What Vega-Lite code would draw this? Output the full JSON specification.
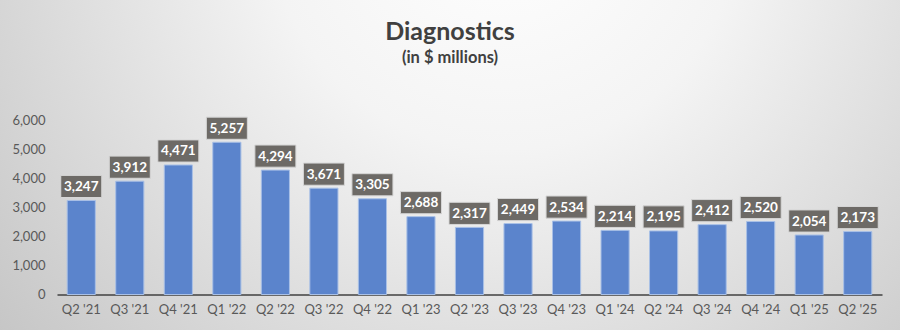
{
  "$schema": "https://vega.github.io/schema/vega-lite/v6.json",
  "width": 900,
  "height": 330,
  "autosize": "none",
  "padding": 0,
  "background": "#c8c8c8",
  "config": {
    "view": {
      "stroke": null,
      "fill": {
        "gradient": "radial",
        "x1": 0.56, "y1": 0.22, "r1": 0,
        "x2": 0.56, "y2": 0.22, "r2": 0.75,
        "stops": [
          {"offset": 0, "color": "#ffffff"},
          {"offset": 0.35, "color": "#f4f4f4"},
          {"offset": 1, "color": "#c4c4c4"}
        ]
      }
    },
    "font": "Lato"
  },
  "title": {
    "text": "Diagnostics",
    "subtitle": "(in $ millions)",
    "font": "Lato",
    "fontSize": 25,
    "fontWeight": "bold",
    "color": "#404040",
    "subtitleFont": "Lato",
    "subtitleFontSize": 16.5,
    "subtitleFontWeight": "bold",
    "subtitleColor": "#404040",
    "subtitlePadding": 5,
    "anchor": "middle",
    "frame": "group",
    "offset": -66
  },
  "data": {
    "values": [
      {"quarter": "Q2 '21", "value": 3247},
      {"quarter": "Q3 '21", "value": 3912},
      {"quarter": "Q4 '21", "value": 4471},
      {"quarter": "Q1 '22", "value": 5257},
      {"quarter": "Q2 '22", "value": 4294},
      {"quarter": "Q3 '22", "value": 3671},
      {"quarter": "Q4 '22", "value": 3305},
      {"quarter": "Q1 '23", "value": 2688},
      {"quarter": "Q2 '23", "value": 2317},
      {"quarter": "Q3 '23", "value": 2449},
      {"quarter": "Q4 '23", "value": 2534},
      {"quarter": "Q1 '24", "value": 2214},
      {"quarter": "Q2 '24", "value": 2195},
      {"quarter": "Q3 '24", "value": 2412},
      {"quarter": "Q4 '24", "value": 2520},
      {"quarter": "Q1 '25", "value": 2054},
      {"quarter": "Q2 '25", "value": 2173}
    ]
  },
  "encoding": {
    "x": {
      "field": "quarter",
      "type": "nominal",
      "sort": null,
      "scale": {"range": [57, 882], "paddingInner": 0.42, "paddingOuter": 0.21},
      "axis": {
        "title": null,
        "labelAngle": 0,
        "labelFont": "Lato",
        "labelFontSize": 13,
        "labelColor": "#595959",
        "labelPadding": 9,
        "ticks": false,
        "tickSize": 0,
        "domainColor": "#404040",
        "domainWidth": 1.5,
        "offset": -35.5
      }
    },
    "y": {
      "field": "value",
      "type": "quantitative",
      "scale": {"domain": [0, 6000], "range": [294.5, 120.7], "nice": false, "zero": false},
      "axis": {
        "title": null,
        "values": [0, 1000, 2000, 3000, 4000, 5000, 6000],
        "format": ",.0f",
        "labelFont": "Lato",
        "labelFontSize": 13,
        "labelColor": "#595959",
        "domain": false,
        "ticks": false,
        "tickSize": 0,
        "labelPadding": 5,
        "grid": false,
        "offset": -50
      }
    }
  },
  "layer": [
    {
      "mark": {"type": "bar", "color": "#5b84cc", "stroke": "#a9c0e6", "strokeWidth": 1}
    },
    {
      "mark": {
        "type": "point",
        "shape": "M-1,-0.54L1,-0.54L1,0.54L-1,0.54Z",
        "size": 1681,
        "filled": true,
        "fill": "#6d6a66",
        "stroke": "#d6d6d6",
        "strokeWidth": 1,
        "opacity": 1,
        "yOffset": -14
      }
    },
    {
      "mark": {
        "type": "text",
        "font": "Lato",
        "fontSize": 13.5,
        "fontWeight": "bold",
        "color": "#ffffff",
        "baseline": "middle",
        "yOffset": -13.5
      },
      "encoding": {
        "text": {"field": "value", "type": "quantitative", "format": ",.0f"}
      }
    }
  ]
}
